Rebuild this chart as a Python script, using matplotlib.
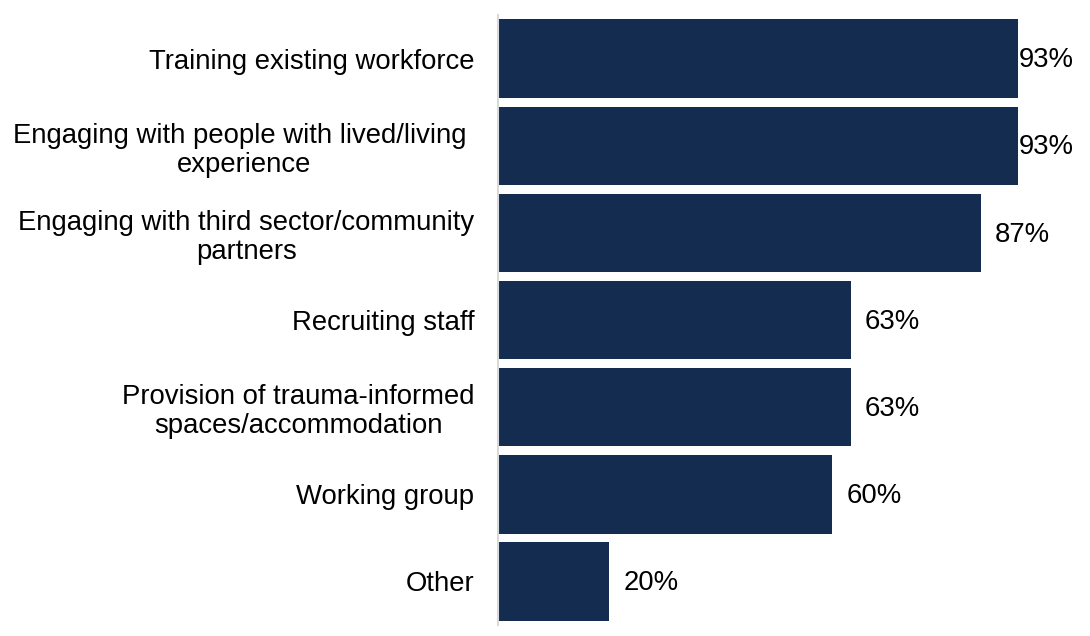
import matplotlib.pyplot as plt
import numpy as np

plt.rcParams["font.family"] = ["Liberation Sans", "DejaVu Sans"]

categories = ['Training existing workforce',
              'Engaging with people with lived/living \nexperience',
              'Engaging with third sector/community\npartners',
              'Recruiting staff',
              'Provision of trauma-informed\nspaces/accommodation',
              'Working group',
              'Other']
values = [93.3, 93.3, 86.7, 63.3, 63.3, 60.0, 20.0]

bar_color = '#132c50'

fig = plt.figure(figsize=(10.9, 6.36), dpi=100)
# axes placed to match the reference pixel layout
ax = fig.add_axes([498/1090, 1 - 625/636, 520/1090, 610/636])

y = np.arange(len(categories))
ax.barh(y, values, height=0.9, color=bar_color)
ax.set_ylim(len(categories) - 0.5, -0.5)
ax.set_xlim(0, max(values))

ax.set_yticks(y)
ax.set_yticklabels(categories, fontsize=19.8, linespacing=1.15)
for lab in ax.get_yticklabels():
    lab.set_horizontalalignment('right')
    lab.set_multialignment('center')
ax.tick_params(axis='y', length=0, pad=17)
ax.set_xticks([])

for s in ['top', 'right', 'bottom']:
    ax.spines[s].set_visible(False)
ax.spines['left'].set_color('#d9d9d9')
ax.spines['left'].set_linewidth(1.5)

# value labels, pushed inside the figure when too close to the edge
pad = 2.5
for yi, v in zip(y, values):
    xpos = min(v + pad, max(values) + 0.1)
    ax.text(xpos, yi + 0.02, '%d%%' % round(v), va='center', ha='left',
            fontsize=19.8, color='black', clip_on=False)

plt.savefig('out.png', dpi=100)
